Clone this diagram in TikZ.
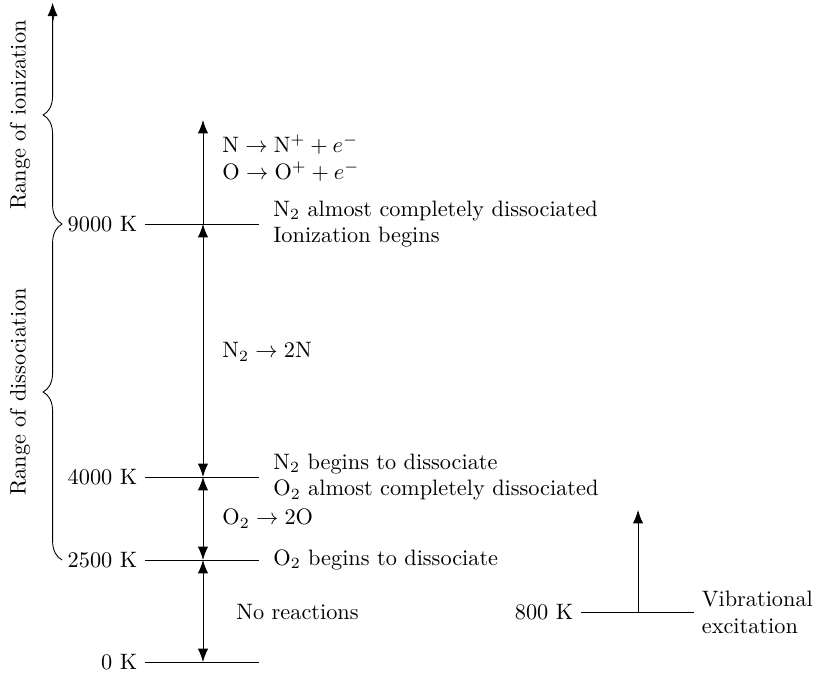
\documentclass[tikz,border=0pt]{standalone}
\usepackage{tikz}
\usetikzlibrary{arrows.meta,decorations.pathreplacing}
\tikzset{
  span/.style={{Latex[length=6pt,width=4.6pt]}-{Latex[length=6pt,width=4.6pt]}},
  rise/.style={-{Latex[length=6pt,width=4.6pt]}},
  temp/.style={anchor=east},
  note/.style={anchor=west, align=left},
  rangebrace/.style={decorate, decoration={brace, amplitude=0.3cm}},
}

\begin{document}
\begin{tikzpicture}
\useasboundingbox (-3.199,-0.189) rectangle (9.629,10.433);
\coordinate (k0) at (0,0);
\coordinate (k2500) at (0,1.608);
\coordinate (k4000) at (0,2.916);
\coordinate (k9000) at (0,6.903);
\coordinate (ktop) at (0,8.542);
% temperature levels
\node[temp] (t0) at (-0.914,0) {0 K};
\node[temp] (t2500) at (-0.914,1.608) {2500 K};
\node[temp] (t4000) at (-0.914,2.916) {4000 K};
\node[temp] (t9000) at (-0.914,6.903) {9000 K};
\draw (t0.east) -- ++(1.797,0) coordinate (e0);
\draw (t2500.east) -- ++(1.797,0) coordinate (e2500);
\draw (t4000.east) -- ++(1.797,0) coordinate (e4000);
\draw (t9000.east) -- ++(1.797,0) coordinate (e9000);
\draw[span] (k0) -- (k2500);
\draw[span] (k2500) -- (k4000);
\draw[span] (k4000) -- (k9000);
\draw[rise] (k9000) -- (ktop);
% what happens
\node[note] (n2500) at ([xshift=0.103cm]e2500) {O$_2$ begins to dissociate};
\node[note] (n4000) at ([xshift=0.103cm]e4000) {N$_2$ begins to dissociate\\O$_2$ almost completely dissociated};
\node[note] (n9000) at ([xshift=0.103cm]e9000) {N$_2$ almost completely dissociated\\Ionization begins};
\node[note] (rnone) at (0.403,0.788) {No reactions};
\node[note] (roxy) at (0.183,2.254) {$\mathrm{O}_2 \rightarrow 2\mathrm{O}$};
\node[note] (rnit) at (0.183,4.886) {$\mathrm{N}_2 \rightarrow 2\mathrm{N}$};
\node[note] (rion) at (0.183,7.943) {$\mathrm{N} \rightarrow \mathrm{N}^{+} + e^{-}$\\$\mathrm{O} \rightarrow \mathrm{O}^{+} + e^{-}$};
% ranges
\draw[rangebrace] (-2.22,1.608) -- (-2.22,6.903);
\begin{scope}
\clip (-3.2,6.5) rectangle (-2.0,9.9) (-3.2,9.9) rectangle (-2.33,10.5);
\draw[rangebrace] (-2.22,6.903) -- (-2.22,10.34);
\end{scope}
\draw[rise] (-2.37,9.85) -- (-2.37,10.39);
\node[rotate=90] (gdis) at (-2.884,4.256) {Range of dissociation};
\node[rotate=90] (gion) at (-2.884,8.62) {Range of ionization};
% vibration
\node[temp] (t800) at (5.957,0.788) {800 K};
\draw (t800.east) -- ++(1.781,0) coordinate (e800);
\coordinate (v800) at (6.856,0.788);
\coordinate (vtop) at (6.856,2.396);
\draw[rise] (v800) -- (vtop);
\node[note] (nvib) at (e800) {Vibrational\\excitation};
\end{tikzpicture}
\end{document}
